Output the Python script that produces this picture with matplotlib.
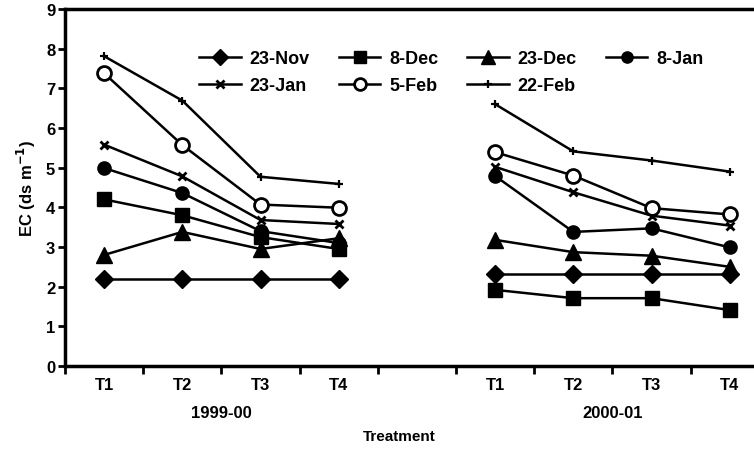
import numpy as np
import matplotlib
matplotlib.use('Agg')
import matplotlib.pyplot as plt
from matplotlib.transforms import blended_transform_factory

plt.rcParams['font.family'] = ['Liberation Sans', 'DejaVu Sans']
plt.rcParams['font.weight'] = 'bold'

treatments = ['T1', 'T2', 'T3', 'T4']
seasons = ['1999-00', '2000-01']
dates = ['23-Nov', '8-Dec', '23-Dec', '8-Jan', '23-Jan', '5-Feb', '22-Feb']

# EC values per sampling date, season 1999-00 then 2000-01 (T1..T4)
ec_9900 = {
    '23-Nov': [2.2, 2.2, 2.2, 2.2],
    '8-Dec': [4.2, 3.8, 3.25, 2.95],
    '23-Dec': [2.8, 3.38, 2.95, 3.22],
    '8-Jan': [4.99, 4.36, 3.4, 3.1],
    '23-Jan': [5.58, 4.78, 3.68, 3.58],
    '5-Feb': [7.38, 5.57, 4.07, 3.99],
    '22-Feb': [7.81, 6.69, 4.77, 4.59],
}
ec_0001 = {
    '23-Nov': [2.32, 2.32, 2.32, 2.32],
    '8-Dec': [1.92, 1.71, 1.71, 1.41],
    '23-Dec': [3.18, 2.87, 2.78, 2.5],
    '8-Jan': [4.79, 3.38, 3.47, 2.99],
    '23-Jan': [5.02, 4.38, 3.79, 3.54],
    '5-Feb': [5.39, 4.8, 3.98, 3.82],
    '22-Feb': [6.6, 5.41, 5.18, 4.9],
}

styles = {
    '23-Nov': dict(marker='D', ms=9.5, mfc='black'),
    '8-Dec': dict(marker='s', ms=9.5, mfc='black'),
    '23-Dec': dict(marker='^', ms=12, mfc='black'),
    '8-Jan': dict(marker='o', ms=9.5, mfc='black'),
    '23-Jan': dict(marker='x', ms=6, mew=2),
    '5-Feb': dict(marker='o', ms=10, mfc='white', mew=2),
    '22-Feb': dict(marker='+', ms=6, mew=1.6),
}

x1 = np.arange(1, 5)
x2 = np.arange(6, 10)

fig = plt.figure(figsize=(7.54, 4.52), dpi=100)
ax = fig.add_axes([0.0862, 0.188, 0.92, 0.79])

handles = {}
for d in dates:
    st = styles[d]
    h, = ax.plot(x1, ec_9900[d], color='black', lw=1.8, mec='black', label=d, **st)
    ax.plot(x2, ec_0001[d], color='black', lw=1.8, mec='black', **st)
    handles[d] = h

ax.set_xlim(0.5, 9.37)
ax.set_ylim(0, 9)
ax.set_yticks(range(0, 10))
ax.set_xticks(np.arange(0.5, 9, 1.0))
ax.set_xticklabels([])
ax.set_xticks(list(x1) + list(x2), minor=True)
ax.set_xticklabels(treatments + treatments, minor=True, fontsize=12, fontweight='bold')
ax.tick_params(axis='x', which='minor', length=0, pad=8)
ax.tick_params(axis='x', which='major', length=6, width=2, direction='out')
ax.tick_params(axis='y', length=5, width=2, direction='out', labelsize=12, pad=2)

for s in ['left', 'bottom', 'top']:
    ax.spines[s].set_linewidth(2.5)
ax.spines['right'].set_visible(False)

trans = blended_transform_factory(ax.transData, ax.transAxes)
ax.text(2.5, -0.13, seasons[0], transform=trans, ha='center', va='center', fontsize=12, fontweight='bold')
ax.text(7.5, -0.13, seasons[1], transform=trans, ha='center', va='center', fontsize=12, fontweight='bold')
fig.text(0.53, 0.033, 'Treatment', ha='center', va='center', fontsize=11, fontweight='bold')
ax.set_ylabel('EC (ds m$^{\\mathbf{-1}}$)', fontsize=12, fontweight='bold', labelpad=6)

order = ['23-Nov', '23-Jan', '8-Dec', '5-Feb', '23-Dec', '22-Feb', '8-Jan']
ax.legend([handles[d] for d in order], order, ncol=4, frameon=False,
          loc='upper left', bbox_to_anchor=(0.17, 0.93), fontsize=13,
          handlelength=2.3, handletextpad=0.5, columnspacing=1.6,
          labelspacing=0.55, markerscale=0.85)

fig.savefig('out.png', dpi=100)
